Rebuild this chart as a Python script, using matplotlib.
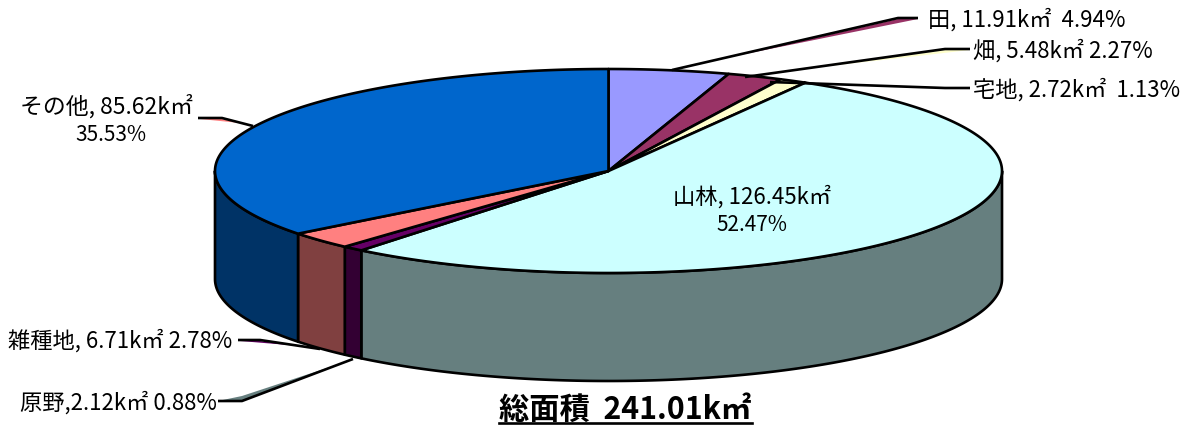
import numpy as np
import matplotlib
matplotlib.use("Agg")
import matplotlib.pyplot as plt
from matplotlib.patches import Polygon

plt.rcParams['font.family'] = ['Noto Sans CJK JP', 'DejaVu Sans']

categories = ["田", "畑", "宅地", "山林", "原野", "雑種地", "その他"]
percents = [4.94, 2.27, 1.13, 52.47, 0.88, 2.78, 35.53]
top_colors = ["#9999FF", "#993366", "#FFFFCC", "#CCFFFF", "#660066", "#FF8080", "#0066CC"]
side_colors = ["#4C4C7F", "#4C1933", "#7F7F66", "#667F7F", "#330033", "#804040", "#003366"]

cx, cy = 608.5, 172
rx, ry = 393.5, 102
depth = 108

fig = plt.figure(figsize=(11.87, 4.27), dpi=100)
ax = fig.add_axes([0, 0, 1, 1])
ax.set_xlim(0, 1187)
ax.set_ylim(427, 0)
ax.axis('off')


def arc(t0, t1, dy=0):
    t = np.radians(np.linspace(t0, t1, max(int(abs(t1 - t0) * 2), 2)))
    return np.column_stack([cx + rx * np.sin(t), cy + dy - ry * np.cos(t)])


edges = np.concatenate([[0], np.cumsum(percents)]) / sum(percents) * 360

# side wall, front half only
for i in range(len(percents)):
    t0 = max(edges[i], 90)
    t1 = min(edges[i + 1], 270)
    if t1 <= t0:
        continue
    pts = np.vstack([arc(t0, t1), arc(t0, t1, depth)[::-1]])
    ax.add_patch(Polygon(pts, closed=True, fc=side_colors[i], ec='black', lw=1.9, joinstyle='round'))

# top face
for i in range(len(percents)):
    pts = np.vstack([[[cx, cy]], arc(edges[i], edges[i + 1])])
    ax.add_patch(Polygon(pts, closed=True, fc=top_colors[i], ec='black', lw=1.9, joinstyle='round'))

# leader lines, with the thin coloured sliver that sits beside each one
leaders = [
    [(672, 71), (898, 19), (918, 19)],
    [(745, 78), (945, 50), (970, 50)],
    [(770, 83), (945, 89), (970, 89)],
    [(353, 360), (242, 402), (218, 402)],
    [(320, 350), (260, 341), (238, 341)],
    [(253, 127), (222, 119), (198, 119)],
]
slivers = [
    ([(740, 56), (898, 20), (918, 20)], "#993366"),
    ([(830, 67), (945, 51), (970, 51)], "#FFFFCC"),
    ([(333, 367), (242, 402), (218, 402), (242, 397)], "#667F7F"),
    ([(300, 347), (260, 342), (240, 342)], "#660066"),
    ([(240, 124), (222, 120), (200, 120)], "#FF8080"),
]
for pts, col in slivers:
    ax.add_patch(Polygon(pts, closed=True, fc=col, ec='none', zorder=3))
for path in leaders:
    p = np.array(path, dtype=float)
    ax.plot(p[:, 0], p[:, 1], color='black', lw=1.9, zorder=4, solid_capstyle='butt')

fs = 16
ax.text(928, 20, "田, 11.91k㎡  4.94%", fontsize=fs, va='center', ha='left', color='black')
ax.text(973, 51, "畑, 5.48k㎡ 2.27%", fontsize=fs, va='center', ha='left', color='black')
ax.text(973, 90, "宅地, 2.72k㎡  1.13%", fontsize=fs, va='center', ha='left', color='black')
ax.text(752, 197, "山林, 126.45k㎡", fontsize=fs, va='center', ha='center', color='black')
ax.text(752, 225, "52.47%", fontsize=15, va='center', ha='center', color='black')
ax.text(106, 106, "その他, 85.62k㎡", fontsize=16.5, va='center', ha='center', color='black')
ax.text(111, 135, "35.53%", fontsize=15, va='center', ha='center', color='black')
ax.text(8, 341, "雑種地, 6.71k㎡ 2.78%", fontsize=fs, va='center', ha='left', color='black')
ax.text(20, 403, "原野,2.12k㎡ 0.88%", fontsize=fs, va='center', ha='left', color='black')

ax.text(625, 410, "総面積  241.01k㎡", fontsize=21.8, fontweight='bold', va='center', ha='center', color='black')
ax.plot([499, 752], [424, 424], color='black', lw=1.9)

fig.savefig("out.png", dpi=100)
